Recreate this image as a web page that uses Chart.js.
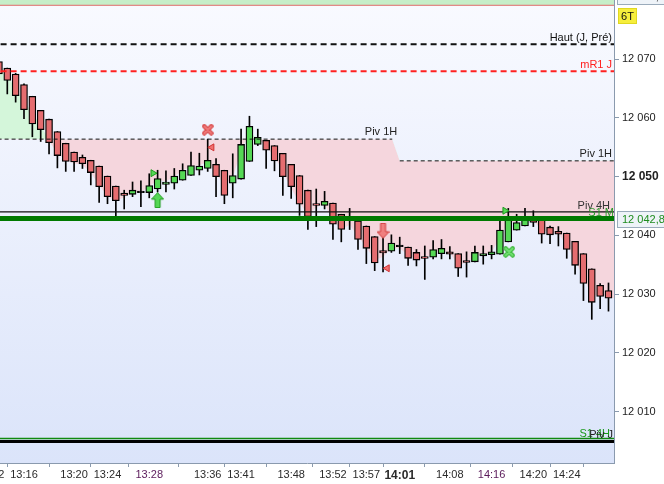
<!DOCTYPE html>
<html>
<head>
<meta charset="utf-8">
<script src="https://cdn.jsdelivr.net/npm/chart.js@4.4.1/dist/chart.umd.min.js"></script>
<style>
  html, body { margin: 0; padding: 0; background: #fff; }
  #wrap { width: 664px; height: 484px; }
</style>
</head>
<body>
<div id="wrap"><canvas id="chart"></canvas></div>
<script>
// candle index of the first value (the first candle is half cut by the left edge)
const firstCandle = -1;
const opens = [12069.6, 12068.5, 12067.5, 12065.7, 12063.7, 12061.3, 12059.8, 12057.7, 12055.7, 12054.2,
  12053.3, 12052.8, 12051.8, 12050.1, 12048.4, 12047.2, 12047.0, 12047.3, 12047.3, 12047.9,
  12048.7, 12048.9, 12049.4, 12050.2, 12051.1, 12051.4, 12052.1, 12051.1, 12048.9, 12049.6,
  12052.6, 12055.5, 12056.2, 12055.3, 12054.0, 12052.1, 12050.2, 12047.7, 12045.4, 12045.1,
  12045.5, 12043.6, 12042.6, 12042.5, 12041.6, 12039.8, 12037.4, 12037.3, 12038.1, 12038.0,
  12037.1, 12036.4, 12036.3, 12036.9, 12037.2, 12036.9, 12035.7, 12035.5, 12036.5, 12036.7,
  12036.8, 12038.9, 12040.9, 12041.6, 12042.9, 12042.8, 12041.4, 12040.7, 12040.4, 12039.0,
  12036.9, 12034.3, 12031.5, 12030.6];
const highs = [12070.3, 12068.5, 12067.6, 12065.8, 12063.7, 12061.3, 12059.8, 12057.7, 12055.7, 12054.2,
  12053.7, 12052.8, 12051.8, 12050.1, 12048.4, 12047.7, 12049.1, 12049.3, 12050.5, 12051.1,
  12051.0, 12051.4, 12052.2, 12054.2, 12054.0, 12056.4, 12053.1, 12051.1, 12053.9, 12058.1,
  12060.3, 12058.1, 12056.2, 12055.3, 12054.0, 12052.1, 12050.2, 12047.7, 12047.9, 12047.5,
  12045.5, 12043.6, 12044.6, 12042.5, 12041.6, 12039.8, 12039.6, 12040.1, 12039.7, 12038.0,
  12037.6, 12038.2, 12039.1, 12039.3, 12038.1, 12036.9, 12037.2, 12038.2, 12038.2, 12038.3,
  12043.0, 12044.6, 12043.6, 12044.6, 12044.2, 12042.8, 12041.6, 12041.5, 12040.4, 12039.0,
  12036.9, 12034.3, 12031.8, 12031.9];
const lows = [12067.2, 12064.1, 12062.7, 12059.9, 12056.8, 12056.0, 12053.9, 12051.5, 12050.9, 12050.9,
  12051.4, 12048.6, 12045.6, 12045.4, 12043.2, 12044.5, 12046.6, 12044.9, 12046.4, 12047.4,
  12047.4, 12047.9, 12049.4, 12050.2, 12050.3, 12050.9, 12046.6, 12045.4, 12046.4, 12049.6,
  12052.6, 12055.3, 12051.4, 12051.0, 12046.8, 12046.3, 12043.4, 12041.0, 12041.5, 12044.5,
  12039.3, 12038.9, 12041.0, 12037.6, 12035.2, 12034.0, 12033.8, 12037.1, 12036.9, 12034.9,
  12034.8, 12032.5, 12036.0, 12036.0, 12036.0, 12033.0, 12032.9, 12035.5, 12035.1, 12036.0,
  12036.8, 12038.9, 12040.9, 12041.6, 12041.5, 12038.7, 12038.6, 12038.2, 12036.1, 12033.4,
  12028.9, 12025.7, 12027.5, 12027.1];
const closes = [12067.5, 12066.4, 12063.8, 12061.4, 12059.0, 12058.0, 12055.8, 12053.6, 12052.6, 12052.5,
  12052.2, 12050.7, 12048.3, 12046.6, 12045.9, 12046.8, 12047.7, 12047.3, 12048.5, 12049.7,
  12049.1, 12050.1, 12051.1, 12051.9, 12051.8, 12052.8, 12050.0, 12046.8, 12050.2, 12055.5,
  12058.6, 12056.7, 12054.5, 12052.7, 12050.0, 12048.3, 12045.3, 12043.2, 12045.1, 12045.8,
  12041.9, 12041.0, 12042.5, 12039.3, 12037.8, 12035.3, 12037.0, 12038.7, 12038.1, 12036.1,
  12035.8, 12036.1, 12037.6, 12037.8, 12036.8, 12034.4, 12035.4, 12037.1, 12036.9, 12037.2,
  12040.9, 12042.6, 12042.2, 12042.9, 12042.2, 12040.2, 12040.1, 12040.2, 12037.6, 12034.9,
  12031.8, 12028.6, 12029.6, 12029.3];

// smoothed price line that bounds the green / pink zones (from candle -1 to 73)
const smoothLine = [12069.0, 12067.3, 12064.9, 12062.9, 12060.8, 12058.8, 12056.1, 12054.0, 12052.8, 12052.3,
  12052.0, 12050.7, 12048.5, 12046.7, 12045.8, 12046.5, 12047.3, 12047.4, 12048.3, 12049.5,
  12049.2, 12050.0, 12051.0, 12051.8, 12051.9, 12052.6, 12050.5, 12048.6, 12049.8, 12054.5,
  12057.5, 12056.6, 12055.0, 12053.5, 12050.8, 12048.0, 12045.5, 12043.5, 12044.8, 12045.3,
  12042.5, 12041.0, 12041.8, 12039.8, 12038.0, 12035.8, 12036.3, 12037.8, 12037.8, 12036.6,
  12036.0, 12036.0, 12037.0, 12037.5, 12037.0, 12035.0, 12035.3, 12036.5, 12036.8, 12037.0,
  12039.8, 12042.2, 12042.3, 12042.7, 12042.4, 12041.0, 12040.4, 12040.3, 12038.3, 12035.8,
  12032.8, 12029.8, 12029.8, 12029.5, 12029.2];

// hourly pivot: steps down at 14:00
const pivot1hIdx = [-2, 46.1, 47.0, 74];
const pivot1hVal = [12056.4, 12056.4, 12052.7, 12052.7];

const levelNames = ['Haut (J, Pré)', 'mR1 J', 'Piv 4H', 'S1 M', 'S1 4H', 'Piv J'];
const levelValues = [12072.55, 12067.95, 12044.0, 12042.9, 12005.4, 12004.9];
const topZoneValue = 12079.2;

const lastPrice = 12042.8;
const highPrice = 12080.8;
const unitLabel = '6T';

const timeTickIdx = [-2, 2, 8, 12, 17, 24, 28, 34, 39, 43, 47, 53, 58, 63, 67];
const timeLabels = ['13:12', '13:16', '13:20', '13:24', '13:28', '13:36', '13:41', '13:48', '13:52', '13:57',
  '14:01', '14:08', '14:16', '14:20', '14:24'];
const priceTicks = [12010, 12020, 12030, 12040, 12050, 12060, 12070];

// signals: [candle index, price]
const buyArrows = [[18, 12046.0]];
const sellArrows = [[45, 12040.8]];
const buyFlags = [[17.45, 12050.6], [59.6, 12044.2]];
const sellFlags = [[24.5, 12055.0], [45.5, 12034.4]];
const sellCrosses = [[24, 12058.0]];
const buyCrosses = [[60.1, 12037.2]];

const FONT = "'Liberation Sans', Arial, sans-serif";
const RED = '#e56d70';
const GREEN = '#55d855';

const fmt = (v, dec) => {
  const s = v.toFixed(dec || 0).replace('.', ',');
  return s.slice(0, 2) + ' ' + s.slice(2);
};

function icon(w, h, draw) {
  const c = document.createElement('canvas');
  c.width = w; c.height = h;
  draw(c.getContext('2d'));
  return c;
}

function crossIcon(dark, light) {
  return icon(12, 12, g => {
    g.lineCap = 'round';
    g.strokeStyle = dark; g.lineWidth = 4.5;
    g.beginPath(); g.moveTo(2.5, 2.5); g.lineTo(9.5, 9.5); g.moveTo(9.5, 2.5); g.lineTo(2.5, 9.5); g.stroke();
    g.strokeStyle = light; g.lineWidth = 2;
    g.beginPath(); g.moveTo(2.5, 2.5); g.lineTo(9.5, 9.5); g.moveTo(9.5, 2.5); g.lineTo(2.5, 9.5); g.stroke();
  });
}

function arrowIcon(up, fill, stroke) {
  return icon(13, 16, g => {
    const pts = [[6.5, 0.5], [12.5, 7], [9, 7], [9, 15.5], [4, 15.5], [4, 7], [0.5, 7]];
    g.beginPath();
    pts.forEach(([x, y], i) => {
      const yy = up ? y : 16 - y;
      i ? g.lineTo(x, yy) : g.moveTo(x, yy);
    });
    g.closePath();
    g.fillStyle = fill; g.fill();
    g.strokeStyle = stroke; g.lineWidth = 1; g.stroke();
  });
}

const idx = i => i + firstCandle;
const toXY = arr => arr.map(([x, y]) => ({ x, y }));

const bodies = opens.map((o, i) => ({ x: idx(i), y: [o, closes[i]] }));
const wicks = highs.map((h, i) => ({ x: idx(i), y: [lows[i], h] }));
const bodyColors = opens.map((o, i) => closes[i] > o ? GREEN : (closes[i] < o ? RED : '#000'));

const levelStyles = [
  { color: '#111', width: 2, dash: [6, 4] },
  { color: '#ff2020', width: 2, dash: [6, 4] },
  { color: '#111', width: 1.2, dash: [] },
  { color: '#007a00', width: 5, dash: [] },
  { color: '#108a10', width: 1.5, dash: [] },
  { color: '#000', width: 3, dash: [] }
];
const labelColors = ['#111', '#ff2020', '#333', '#2a9a2a', '#1a9a1a', '#222'];

const datasets = [];

// 0: top zone
datasets.push({
  type: 'line', data: [{ x: -2, y: topZoneValue }, { x: 74, y: topZoneValue }],
  borderColor: '#e06a6a', borderWidth: 1, pointRadius: 0, fill: 'end',
  backgroundColor: '#c6eec8', order: 20
});
// 1: pivot target for the fill (invisible)
datasets.push({
  type: 'line', data: pivot1hIdx.map((x, i) => ({ x, y: pivot1hVal[i] })),
  borderWidth: 0, borderColor: 'rgba(0,0,0,0)', pointRadius: 0, fill: false, order: 19
});
// 2: smoothed line, green above pivot, pink below
datasets.push({
  type: 'line', data: smoothLine.map((v, i) => ({ x: idx(i), y: v })),
  borderWidth: 0, borderColor: 'rgba(0,0,0,0)', pointRadius: 0, tension: 0,
  fill: { target: 1, above: '#d4f6da', below: '#f5d6dd' }, order: 18
});
// wicks and bodies
datasets.push({
  type: 'bar', data: wicks, backgroundColor: '#000', borderWidth: 0,
  barThickness: 1, grouped: false, order: 6
});
datasets.push({
  type: 'bar', data: bodies, backgroundColor: bodyColors, borderColor: '#000',
  borderWidth: 1.3, borderSkipped: false, barThickness: 7, minBarLength: 1.5,
  grouped: false, order: 5
});
// hourly pivot dashes
datasets.push({
  type: 'line', data: [{ x: -2, y: pivot1hVal[0] }, { x: pivot1hIdx[1], y: pivot1hVal[1] }],
  borderColor: '#111', borderWidth: 1, borderDash: [4, 3], pointRadius: 0, fill: false, order: 2
});
datasets.push({
  type: 'line', data: [{ x: pivot1hIdx[2], y: pivot1hVal[2] }, { x: 74, y: pivot1hVal[3] }],
  borderColor: '#111', borderWidth: 1, borderDash: [4, 3], pointRadius: 0, fill: false, order: 2
});
// daily / 4h / monthly levels
levelValues.forEach((v, i) => {
  const s = levelStyles[i];
  datasets.push({
    type: 'line', data: [{ x: -2, y: v }, { x: 74, y: v }],
    borderColor: s.color, borderWidth: s.width, borderDash: s.dash,
    pointRadius: 0, fill: false, order: 1
  });
});
// signals
const marker = (data, style, extra) => Object.assign({
  type: 'line', data: toXY(data), showLine: false, pointStyle: style, order: 0
}, extra || {});
datasets.push(marker(buyArrows, arrowIcon(true, GREEN, '#1f9a1f')));
datasets.push(marker(sellArrows, arrowIcon(false, '#f08080', '#d03838')));
datasets.push(marker(sellCrosses, crossIcon('#d84a4a', '#f07a7a')));
datasets.push(marker(buyCrosses, crossIcon('#3cb83c', '#72e072')));
datasets.push(marker(buyFlags, 'triangle', { rotation: 90, pointRadius: 4, backgroundColor: GREEN, borderColor: '#1f9a1f', borderWidth: 1 }));
datasets.push(marker(sellFlags, 'triangle', { rotation: -90, pointRadius: 4, backgroundColor: '#f07070', borderColor: '#d03030', borderWidth: 1 }));

const backgroundPlugin = {
  id: 'plotBackground',
  beforeDraw(chart) {
    const { ctx, chartArea: a } = chart;
    const g = ctx.createLinearGradient(0, a.top, 0, a.bottom);
    g.addColorStop(0, '#f9faff');
    g.addColorStop(1, '#dbe4fa');
    ctx.save();
    ctx.fillStyle = g;
    ctx.fillRect(a.left, a.top, a.right - a.left, a.bottom - a.top);
    ctx.restore();
  }
};

const labelPlugin = {
  id: 'levelLabels',
  afterDatasetsDraw(chart) {
    const { ctx, chartArea: a, scales: { x, y } } = chart;
    ctx.save();
    ctx.font = '11px ' + FONT;
    ctx.textAlign = 'right';
    ctx.textBaseline = 'alphabetic';
    const offsets = [-3, -3, -3, -2, -2, -3];
    const rights = [a.right - 2, a.right - 2, a.right - 4, a.right, a.right - 4, a.right - 1];
    levelNames.forEach((n, i) => {
      ctx.fillStyle = labelColors[i];
      ctx.fillText(n, rights[i], y.getPixelForValue(levelValues[i]) + offsets[i]);
    });
    ctx.fillStyle = '#222';
    ctx.fillText('Piv 1H', x.getPixelForValue(pivot1hIdx[1]) + 5, y.getPixelForValue(pivot1hVal[0]) - 4);
    ctx.fillText('Piv 1H', a.right - 2, y.getPixelForValue(pivot1hVal[2]) - 4);

    // price boxes on the axis
    ctx.textAlign = 'left';
    ctx.textBaseline = 'middle';
    const box = (v, color) => {
      const py = Math.round(y.getPixelForValue(v));
      ctx.fillStyle = '#eef3f8';
      ctx.fillRect(a.right + 3, py - 8, 49, 16);
      ctx.strokeStyle = '#9aabbb';
      ctx.lineWidth = 1;
      ctx.strokeRect(a.right + 3.5, py - 7.5, 49, 16);
      ctx.fillStyle = color;
      ctx.fillText(fmt(v, 1), a.right + 8, py + 1);
    };
    box(highPrice, '#222');
    box(lastPrice, '#1e8c1e');

    ctx.fillStyle = '#f6ee3c';
    ctx.fillRect(a.right + 4, 8, 19, 16);
    ctx.strokeStyle = '#e0d820';
    ctx.strokeRect(a.right + 4.5, 8.5, 18, 15);
    ctx.fillStyle = '#111';
    ctx.textAlign = 'center';
    ctx.fillText(unitLabel, a.right + 13.5, 16.5);
    ctx.restore();
  }
};

const chart = new Chart(document.getElementById('chart'), {
  type: 'bar',
  data: { datasets },
  options: {
    responsive: true,
    maintainAspectRatio: false,
    animation: false,
    events: [],
    layout: { padding: 0, autoPadding: false },
    plugins: { legend: { display: false }, tooltip: { enabled: false } },
    scales: {
      x: {
        type: 'linear', min: -0.874, max: 72.66, offset: false,
        afterBuildTicks: s => { s.ticks = timeTickIdx.map(v => ({ value: v })); },
        afterFit: s => { s.height = 21; s.paddingLeft = 0; s.paddingRight = 0; },
        grid: { drawOnChartArea: false, tickLength: 4, color: '#8a9aae' },
        border: { color: '#8a9aae' },
        ticks: {
          autoSkip: false, maxRotation: 0, padding: 1,
          callback: v => timeLabels[timeTickIdx.indexOf(v)],
          color: c => (c.tick && (c.tick.value === 17 || c.tick.value === 58)) ? '#5a1a5a' : '#2a2a2a',
          font: c => (c.tick && c.tick.value === 47)
            ? { family: FONT, size: 12, weight: 'bold' }
            : { family: FONT, size: 11 }
        }
      },
      y: {
        position: 'right', min: 12001.23, max: 12080.10,
        afterBuildTicks: s => { s.ticks = priceTicks.map(v => ({ value: v })); },
        afterFit: s => { s.width = 50; s.paddingTop = 0; s.paddingBottom = 0; },
        grid: { drawOnChartArea: false, tickLength: 5, color: '#8a9aae' },
        border: { color: '#8a9aae' },
        ticks: {
          padding: 3, color: '#222',
          callback: v => fmt(v),
          font: c => (c.tick && c.tick.value === 12050)
            ? { family: FONT, size: 12, weight: 'bold' }
            : { family: FONT, size: 11 }
        }
      }
    }
  },
  plugins: [backgroundPlugin, labelPlugin]
});
</script>
</body>
</html>
